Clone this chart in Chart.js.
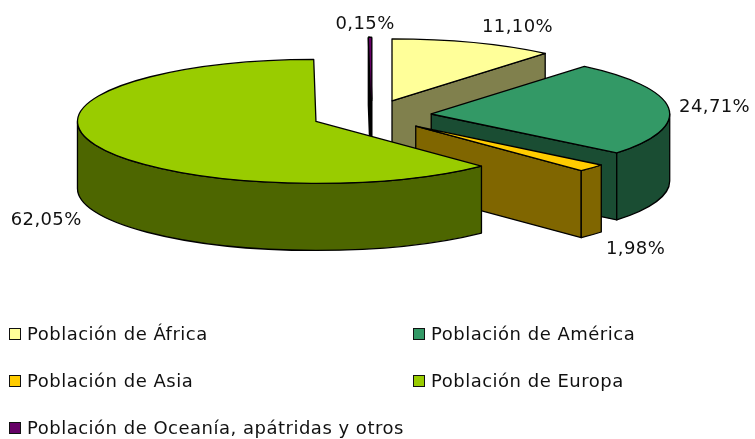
<!DOCTYPE html>
<html>
<head>
<meta charset="utf-8">
<title>Población</title>
<script src="https://cdn.jsdelivr.net/npm/chart.js@4"></script>
<style>
  body{margin:0;background:#fff;}
  #wrap{position:relative;width:755px;height:439px;overflow:hidden;font-family:"DejaVu Sans",sans-serif;}
  #legend{position:absolute;left:9px;top:310px;display:grid;grid-template-columns:404px 300px;grid-auto-rows:47px;font-size:18px;letter-spacing:.5px;color:#111;}
  #legend div{display:flex;align-items:center;white-space:nowrap;}
  #legend i{display:block;box-sizing:border-box;width:12px;height:12px;border:1.5px solid #111;margin-right:6px;}
</style>
</head>
<body>
<div id="wrap">
  <canvas id="pieChart" width="755" height="439"></canvas>
  <div id="legend"></div>
</div>
<script>
const categories = ["Población de África","Población de América","Población de Asia","Población de Europa","Población de Oceanía, apátridas y otros"];
const shares = [11.10,24.71,1.98,62.05,0.15];
const topColors = ["#ffff99","#339966","#ffcc00","#99cc00","#660066"];
const wallColors = ["#80804d","#1a4d33","#806600","#4d6600","#330033"];
// back to front
const paintOrder = [4,0,1,2,3];
// label nudge from the slice rim, px
const labelNudge = [[44,-15],[46,-1],[44,81],[-49,75],[-5,-14]];

const explode = 60, squash = 0.26, depth = 67;

const pie3d = {
  id:"pie3d",
  beforeDatasetDraw(chart, args){
    const ctx = chart.ctx;
    const arcs = args.meta.data;
    paintOrder.forEach(i=>drawSlice(ctx, arcs[i], i));
    ctx.save();
    ctx.font = '18px "DejaVu Sans"';
    ctx.letterSpacing = "0.4px";
    ctx.fillStyle = "#111";
    ctx.textAlign = "center";
    ctx.textBaseline = "middle";
    arcs.forEach((arc,i)=>{
      const mid = (arc.startAngle+arc.endAngle)/2;
      const c = sliceCenter(arc);
      const x = c.x + Math.cos(mid)*arc.outerRadius + labelNudge[i][0];
      const y = c.y + Math.sin(mid)*arc.outerRadius*squash + labelNudge[i][1];
      ctx.fillText(shares[i].toFixed(2).replace(".",",")+"%", x, y);
    });
    ctx.restore();
    return false;
  }
};

function sliceCenter(arc){
  const mid = (arc.startAngle+arc.endAngle)/2;
  return {x:arc.x+Math.cos(mid)*explode, y:arc.y+Math.sin(mid)*explode*squash};
}

function drawSlice(ctx, arc, i){
  const c = sliceCenter(arc);
  const r = arc.outerRadius, ry = r*squash;
  const start = arc.startAngle, end = arc.endAngle;
  // a very thin slice would vanish under its outline, so it gets it behind the fill
  const thin = end-start<0.05;
  ctx.save();
  ctx.lineWidth = thin ? 2.6 : 1.3;
  ctx.lineJoin = "round";
  ctx.strokeStyle = "#000";
  ctx.fillStyle = wallColors[i];

  // cut faces that look at the viewer
  const cutFace = a=>{
    const px = c.x+Math.cos(a)*r, py = c.y+Math.sin(a)*ry;
    ctx.beginPath();
    ctx.moveTo(c.x,c.y);
    ctx.lineTo(px,py);
    ctx.lineTo(px,py+depth);
    ctx.lineTo(c.x,c.y+depth);
    ctx.closePath();
    ctx.fill();
    ctx.stroke();
  };
  if(Math.cos(start)<0) cutFace(start);
  if(Math.cos(end)>0) cutFace(end);

  // outer rim, front half only
  const lo = Math.max(start,0), hi = Math.min(end,Math.PI);
  if(lo<hi){
    ctx.beginPath();
    ctx.ellipse(c.x,c.y,r,ry,0,lo,hi);
    ctx.ellipse(c.x,c.y+depth,r,ry,0,hi,lo,true);
    ctx.closePath();
    ctx.fill();
    ctx.stroke();
  }

  const outline = ()=>{
    ctx.beginPath();
    ctx.moveTo(c.x,c.y);
    ctx.ellipse(c.x,c.y,r,ry,0,start,end);
    ctx.closePath();
    ctx.stroke();
  };
  if(thin) outline();

  // top face, the library's arc under a squash
  ctx.save();
  ctx.translate(c.x,c.y);
  ctx.scale(1,squash);
  ctx.translate(-arc.x,-arc.y);
  arc.draw(ctx);
  ctx.restore();

  if(!thin) outline();
  ctx.restore();
}

new Chart(document.getElementById("pieChart"),{
  type:"pie",
  data:{
    labels:categories,
    datasets:[{data:shares, backgroundColor:topColors, borderWidth:0, radius:238.5}]
  },
  options:{
    responsive:false,
    animation:false,
    layout:{padding:{right:12,bottom:208}},
    plugins:{legend:{display:false},tooltip:{enabled:false}}
  },
  plugins:[pie3d]
});

const legendEl = document.getElementById("legend");
categories.forEach((name,i)=>{
  const row = document.createElement("div");
  const box = document.createElement("i");
  box.style.background = topColors[i];
  row.appendChild(box);
  row.appendChild(document.createTextNode(name));
  legendEl.appendChild(row);
});
</script>
</body>
</html>
